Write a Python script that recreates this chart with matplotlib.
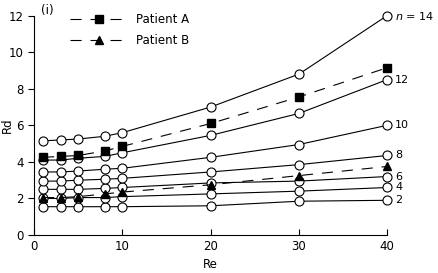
import matplotlib
matplotlib.use('Agg')
import matplotlib.pyplot as plt

# Data
re = [1, 3, 5, 8, 10, 20, 30, 40]

n14 = [5.15, 5.2, 5.25, 5.4, 5.6, 7.0, 8.8, 12.0]
n12 = [4.1, 4.1, 4.2, 4.3, 4.5, 5.45, 6.65, 8.5]
n10 = [3.45, 3.45, 3.5, 3.6, 3.65, 4.25, 4.95, 6.0]
n8 = [2.95, 2.95, 3.0, 3.05, 3.1, 3.45, 3.85, 4.35]
n6 = [2.5, 2.5, 2.5, 2.55, 2.6, 2.85, 2.95, 3.2]
n4 = [2.0, 2.0, 2.05, 2.05, 2.1, 2.25, 2.4, 2.6]
n2 = [1.55, 1.55, 1.55, 1.55, 1.55, 1.6, 1.85, 1.9]

patient_a = [4.25, 4.3, 4.35, 4.6, 4.85, 6.1, 7.55, 9.15]
patient_b = [2.05, 2.05, 2.1, 2.25, 2.35, 2.75, 3.25, 3.75]

curves = [n2, n4, n6, n8, n10, n12, n14]
curve_labels = ['2', '4', '6', '8', '10', '12', '$n$ = 14']

plt.rcParams['font.family'] = 'DejaVu Sans'
plt.rcParams['font.size'] = 8.5

fig = plt.figure(figsize=(4.39, 2.73), dpi=100)
ax = fig.add_axes([0.078, 0.139, 0.804, 0.804])

# Theoretical curves
for ys, lab in zip(curves, curve_labels):
    ax.plot(re, ys, color='black', lw=0.8, marker='o', ms=6.5,
            mfc='white', mec='black', mew=0.8, zorder=3)
    ax.text(re[-1] + 0.9, ys[-1], lab, va='center', ha='left', fontsize=8)

# Patients
ax.plot(re, patient_a, color='black', lw=0.8, dashes=(10, 8), marker='s',
        ms=5.5, mfc='black', mec='black', label='Patient A', zorder=4)
ax.plot(re, patient_b, color='black', lw=0.8, dashes=(10, 8), marker='^',
        ms=5.5, mfc='black', mec='black', label='Patient B', zorder=4)

ax.legend(loc='upper left', bbox_to_anchor=(0.07, 1.06), frameon=False,
          handlelength=5.0, handletextpad=0.6, labelspacing=0.7,
          fontsize=8.5)

ax.text(0.8, 12.25, '(i)', fontsize=8.5, ha='left', va='center')

ax.set_xlim(0, 40)
ax.set_ylim(0, 12)
ax.set_xticks([0, 10, 20, 30, 40])
ax.set_yticks([0, 2, 4, 6, 8, 10, 12])
ax.set_xlabel('Re', labelpad=4)
ax.set_ylabel('Rd')
ax.yaxis.set_label_coords(-0.058, 0.5)

ax.spines['top'].set_visible(False)
ax.spines['right'].set_visible(False)
ax.tick_params(axis='x', direction='in', length=4, width=0.8)
ax.tick_params(axis='y', direction='out', length=4, width=0.8)

for line in ax.lines:
    line.set_clip_on(False)

fig.savefig('out.png', dpi=100)
